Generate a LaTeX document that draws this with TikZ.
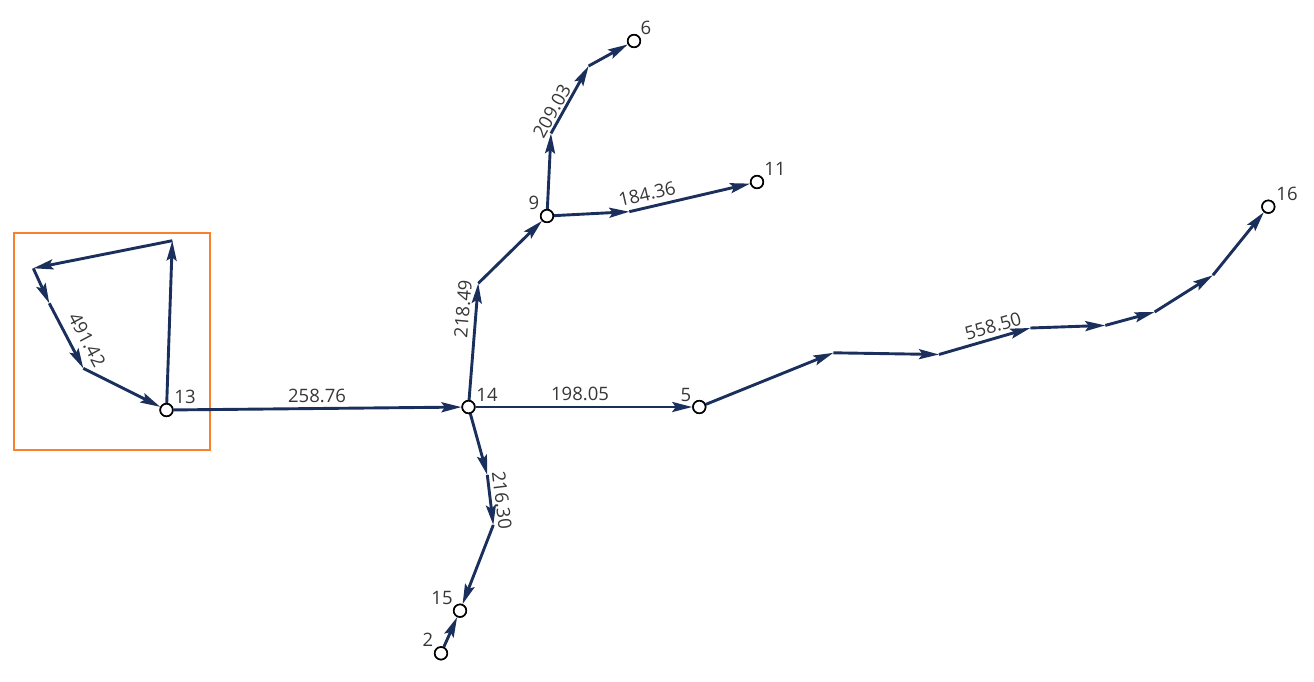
\documentclass[tikz,border=0pt]{standalone}
\usepackage{fontspec}
\setmainfont{Open Sans}
\usetikzlibrary{arrows.meta}
\definecolor{edgecol}{RGB}{27,47,92}
\definecolor{txtcol}{RGB}{55,55,55}
\definecolor{boxcol}{RGB}{247,130,45}
\tikzset{
  x=1pt, y=-1pt,
  vtx/.style={circle, draw=black, fill=white, line width=1.6pt, minimum size=12.5pt, inner sep=0pt},
  edge/.style={draw=edgecol, line width=2.9pt, -{Stealth[length=20pt,width=10pt,inset=3.5pt]}},
  lbl/.style={text=txtcol, font=\fontsize{18.5}{18.5}\selectfont, inner sep=0pt},
  elbl/.style={text=txtcol, font=\fontsize{18.5}{18.5}\selectfont, inner sep=0pt},
}
\begin{document}
\begin{tikzpicture}
\useasboundingbox (0,0) rectangle (1314,681);
% orange box
\draw[boxcol, line width=2.4pt] (14,233) rectangle (210,450);
% bend points
\coordinate (a1) at (172.3,240.7);
\coordinate (a2) at (33.3,268.3);
\coordinate (a3) at (49.3,303.3);
\coordinate (a4) at (83.3,368.3);
\coordinate (b1) at (478.3,283.3);
\coordinate (c1) at (551,133.4);
\coordinate (c2) at (588.6,66);
\coordinate (d1) at (629.3,211.7);
\coordinate (e1) at (487.3,475);
\coordinate (e2) at (493.3,525);
\coordinate (f1) at (833.4,352.8);
\coordinate (f2) at (939,354.5);
\coordinate (f3) at (1030.3,328);
\coordinate (f4) at (1105.3,325.4);
\coordinate (f5) at (1154.6,312);
\coordinate (f6) at (1212.9,275.2);
% vertices
\node[vtx] (n13) at (166.5,410) {};
\node[vtx] (n14) at (468.5,407) {};
\node[vtx] (n5) at (699.3,407) {};
\node[vtx] (n9) at (547,216) {};
\node[vtx] (n6) at (634,41) {};
\node[vtx] (n11) at (757,182) {};
\node[vtx] (n16) at (1268.3,206.7) {};
\node[vtx] (n15) at (460,610.7) {};
\node[vtx] (n2) at (441,653.3) {};
% edges
\draw[edge] (n13) -- (a1);
\draw[edge] (a1) -- (a2);
\draw[edge] (a2) -- (a3);
\draw[edge] (a3) -- (a4);
\draw[edge] (a4) -- (n13);
\draw[edge] (n13) -- (n14);
\draw[edge] (n14) -- (n5);
\draw[edge] (n14) -- (b1);
\draw[edge] (b1) -- (n9);
\draw[edge] (n9) -- (c1);
\draw[edge] (c1) -- (c2);
\draw[edge] (c2) -- (n6);
\draw[edge] (n9) -- (d1);
\draw[edge] (d1) -- (n11);
\draw[edge] (n14) -- (e1);
\draw[edge] (e1) -- (e2);
\draw[edge] (e2) -- (n15);
\draw[edge] (n2) -- (n15);
\draw[edge] (n5) -- (f1);
\draw[edge] (f1) -- (f2);
\draw[edge] (f2) -- (f3);
\draw[edge] (f3) -- (f4);
\draw[edge] (f4) -- (f5);
\draw[edge] (f5) -- (f6);
\draw[edge] (f6) -- (n16);
% redraw vertices on top
\foreach \n in {n13,n14,n5,n9,n6,n11,n16,n15,n2}{\node[vtx] at (\n) {};}
% vertex labels
\node[lbl] (t13) at (185,397) {13};
\node[lbl] (t14) at (487,395) {14};
\node[lbl] (t5) at (686,395) {5};
\node[lbl] (t9) at (534,203) {9};
\node[lbl] (t6) at (646,28) {6};
\node[lbl] (t11) at (775,169) {11};
\node[lbl] (t16) at (1287,194) {16};
\node[lbl] (t15) at (442,598) {15};
\node[lbl] (t2) at (428,640) {2};
% edge labels
\node[elbl] (w1) at (317,396) {258.76};
\node[elbl] (w2) at (580,394) {198.05};
\node[elbl, rotate=-62] (w3) at (87,340) {491.42};
\node[elbl, rotate=85] (w4) at (463,309) {218.49};
\node[elbl, rotate=61] (w5) at (552,111) {209.03};
\node[elbl, rotate=13] (w6) at (647,194) {184.36};
\node[elbl, rotate=-83] (w7) at (502,500) {216.30};
\node[elbl, rotate=16] (w8) at (993,326) {558.50};
\end{tikzpicture}
\end{document}
